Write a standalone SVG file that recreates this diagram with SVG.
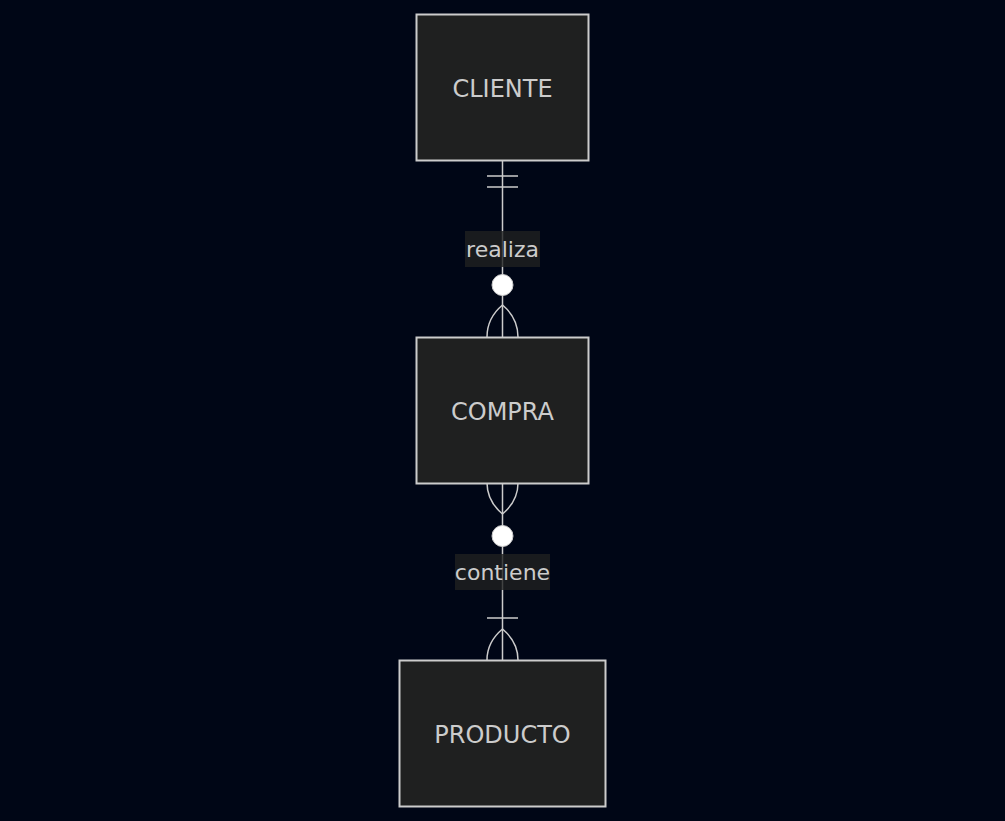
<svg xmlns="http://www.w3.org/2000/svg" width="1005" height="821" viewBox="0 0 1005 821">
<style>
.bg{fill:#000616}
.box{fill:#1f2020;stroke:#cccccc;stroke-width:2}
.ent{font-family:"DejaVu Sans",sans-serif;font-size:24px;fill:#cccccc;text-anchor:middle;dominant-baseline:central}
.lbl{font-family:"DejaVu Sans",sans-serif;font-size:22px;fill:#cccccc;text-anchor:middle;dominant-baseline:central}
.lblbg{fill:#1f2020;opacity:0.8}
.ln{stroke:#cccccc;stroke-width:1.5;fill:none}
.dot{fill:#ffffff;stroke:#cccccc;stroke-width:1}
</style>
<rect class="bg" x="0" y="0" width="1005" height="821"/>
<g id="connectors">
  <g id="realiza">
    <line class="ln" x1="502.5" y1="160" x2="502.5" y2="337"/>
    <line class="ln" x1="487" y1="176" x2="518" y2="176"/>
    <line class="ln" x1="487" y1="187" x2="518" y2="187"/>
    <circle class="dot" cx="502.5" cy="285" r="10.5"/>
    <path class="ln" d="M502.5,305 Q487,318 487,337 M502.5,305 Q518,318 518,337"/>
    <rect class="lblbg" x="465" y="231" width="75" height="36"/>
    <text class="lbl" x="502.5" y="249.5">realiza</text>
  </g>
  <g id="contiene">
    <line class="ln" x1="502.5" y1="483" x2="502.5" y2="660"/>
    <path class="ln" d="M502.5,514 Q487,501 487,483 M502.5,514 Q518,501 518,483"/>
    <circle class="dot" cx="502.5" cy="536" r="10.5"/>
    <line class="ln" x1="487" y1="618" x2="518" y2="618"/>
    <path class="ln" d="M502.5,629 Q487,642 487,660 M502.5,629 Q518,642 518,660"/>
    <rect class="lblbg" x="455" y="554" width="95" height="36"/>
    <text class="lbl" x="502.5" y="572.5">contiene</text>
  </g>
</g>
<g id="CLIENTE">
  <rect class="box" x="416.5" y="14.5" width="172" height="146"/>
  <text class="ent" x="502.5" y="89">CLIENTE</text>
</g>
<g id="COMPRA">
  <rect class="box" x="416.5" y="337.5" width="172" height="146"/>
  <text class="ent" x="502.5" y="412">COMPRA</text>
</g>
<g id="PRODUCTO">
  <rect class="box" x="399.5" y="660.5" width="206" height="146"/>
  <text class="ent" x="502.5" y="735">PRODUCTO</text>
</g>
</svg>
